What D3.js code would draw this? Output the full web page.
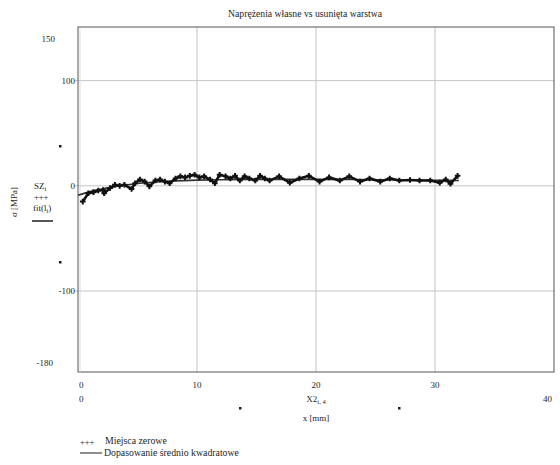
<!DOCTYPE html>
<html>
<head>
<meta charset="utf-8">
<script src="https://cdn.jsdelivr.net/npm/d3@7/dist/d3.min.js"></script>
<style>
  body { margin: 0; background: #fff; }
  svg text { font-family: "Liberation Serif", "DejaVu Serif", serif; }
</style>
</head>
<body>
<svg id="chart" width="560" height="465"></svg>
<script>
// Measured residual stress vs depth of removed layer
const depth = [0.4, 0.87, 1.3, 1.7, 2.1, 2.2, 2.7, 3.1, 3.5, 3.9, 4.5, 4.8, 5.2, 5.6, 6.0, 6.5, 6.9, 7.3, 7.7,
  8.2, 8.6, 9.0, 9.4, 9.8, 10.2, 10.6, 11.1, 11.5, 11.9, 12.4, 12.8, 13.2, 13.6, 14.0, 14.4, 14.9, 15.3, 15.7,
  16.1, 16.9, 17.8, 18.6, 19.4, 20.3, 21.1, 22.0, 22.8, 23.7, 24.5, 25.4, 26.2, 27.0, 27.9, 28.7, 29.6, 30.4,
  30.9, 31.3, 31.9];
const stress = [-15, -7, -6, -4.5, -4, -7, -2, 1, 0, 1, -3, 2.5, 6, 4, -0.5, 5, 6, 4, 2.5,
  7, 9, 8, 9.5, 10.5, 8, 9, 6, 2.5, 10.5, 9, 7, 9.5, 5, 9, 7, 5, 9.5, 7,
  5, 9, 3, 7, 9.5, 4, 8, 5, 9, 4, 7, 4, 7, 5, 5.5, 5, 5, 3,
  6, 2, 9.5];

// Least-squares fit curve
const fitDepth = [0, 1, 2, 3, 4, 5, 6, 8, 10, 12, 15, 20, 25, 30, 32];
const fitStress = [-9, -5.5, -3, -1, 0.8, 2.2, 3.2, 4.6, 5.4, 5.8, 6.1, 6.1, 5.8, 5.3, 5.1];

const xGrid = [10, 20, 30];
const yGrid = [100, 0, -100];
const xTickLabels = ["0", "10", "20", "30"];
const yTickLabels = ["100", "0", "-100"];
const xLimits = ["0", "40"];
const yLimits = ["150", "-180"];

const titleText = "Naprężenia własne vs usunięta warstwa";
const legendItems = ["Miejsca zerowe", "Dopasowanie średnio kwadratowe"];

const ink = "#1e1e1e";
const svg = d3.select("#chart");
const L = 78, R = 554, T = 27, B = 372;

const x = d3.scaleLinear().domain([0, 40]).range([L, R]);
const y = d3.scaleLinear().domain([-177, 151]).range([B, T]);

function label(px, py, txt, size, anchor) {
  return svg.append("text").attr("x", px).attr("y", py).attr("fill", ink)
    .attr("font-size", size).attr("text-anchor", anchor || "start").text(txt);
}

// grid
svg.append("g").selectAll("line").data(xGrid).join("line")
  .attr("x1", d => x(d)).attr("x2", d => x(d)).attr("y1", T).attr("y2", B)
  .attr("stroke", "#c4c4c4").attr("stroke-width", 1);
svg.append("g").selectAll("line").data(yGrid).join("line")
  .attr("x1", L - 4).attr("x2", R).attr("y1", d => y(d)).attr("y2", d => y(d))
  .attr("stroke", "#c4c4c4").attr("stroke-width", 1);

// frame
svg.append("rect").attr("x", L).attr("y", T).attr("width", R - L).attr("height", B - T)
  .attr("fill", "none").attr("stroke", "#555").attr("stroke-width", 1);
svg.append("line").attr("x1", L + 2).attr("x2", L + 2).attr("y1", T + 2).attr("y2", B)
  .attr("stroke", "#ddd").attr("stroke-width", 1);

// title
label(305, 17, titleText, 9.7, "middle");

// y tick labels
svg.append("g").selectAll("text").data(yGrid).join("text")
  .attr("x", 75).attr("y", d => y(d) + 3).attr("text-anchor", "end").attr("fill", ink)
  .attr("font-size", 9).text((d, i) => yTickLabels[i]);
label(55, 42, yLimits[0], 9, "end");
label(53, 366, yLimits[1], 9, "end");

// x tick labels
svg.append("g").selectAll("text").data([0, ...xGrid]).join("text")
  .attr("x", d => d === 0 ? x(d) + 1 : x(d)).attr("y", 388)
  .attr("text-anchor", d => d === 0 ? "start" : "middle").attr("fill", ink)
  .attr("font-size", 9).text((d, i) => xTickLabels[i]);
label(x(0) + 1, 402, xLimits[0], 9);
label(R - 2, 402, xLimits[1], 9, "end");

// x axis expression and label
const xe = label(316, 402, null, 9, "middle");
xe.append("tspan").text("X2");
xe.append("tspan").attr("font-size", 6.5).attr("dy", 2).text("i, 4");
label(316, 421, "x [mm]", 9, "middle");

// placeholder markers
[[240, 408], [399, 408], [60, 146], [60, 262]].forEach(([px, py]) => {
  svg.append("rect").attr("x", px - 1).attr("y", py - 1).attr("width", 2.5).attr("height", 2.5).attr("fill", ink);
});

// y axis label and trace expressions
svg.append("text").attr("transform", "translate(17,202) rotate(-90)").attr("text-anchor", "middle")
  .attr("fill", ink).attr("font-size", 9).text("σ [MPa]");
const e1 = label(34, 189, null, 9);
e1.append("tspan").text("SZ");
e1.append("tspan").attr("font-size", 6.5).attr("dy", 2).text("i");
label(34, 200, "+++", 8.5);
const e2 = label(33, 211, null, 9);
e2.append("tspan").text("fit(l");
e2.append("tspan").attr("font-size", 6.5).attr("dy", 2).text("i");
e2.append("tspan").attr("dy", -2).text(")");
svg.append("line").attr("x1", 32).attr("x2", 53).attr("y1", 221).attr("y2", 221)
  .attr("stroke", ink).attr("stroke-width", 1.5);

// fit curve
const line = d3.line().curve(d3.curveMonotoneX).x(d => x(d[0])).y(d => y(d[1]));
svg.append("path").datum(fitDepth.map((d, i) => [d, fitStress[i]]))
  .attr("d", line).attr("fill", "none").attr("stroke", "#333").attr("stroke-width", 1.6);

// measured points
const pts = depth.map((d, i) => [d, stress[i]]);
svg.append("path").datum(pts).attr("d", d3.line().x(d => x(d[0])).y(d => y(d[1])))
  .attr("fill", "none").attr("stroke", "#111").attr("stroke-width", 2.6);
svg.append("g").selectAll("path").data(pts).join("path")
  .attr("d", d => `M${x(d[0]) - 2.8},${y(d[1])}h5.6M${x(d[0])},${y(d[1]) - 2.8}v5.6`)
  .attr("stroke", "#111").attr("stroke-width", 2);

// legend
label(80, 445, "+++", 8.5);
label(105, 444, legendItems[0], 9.8);
svg.append("line").attr("x1", 80).attr("x2", 102).attr("y1", 453).attr("y2", 453)
  .attr("stroke", ink).attr("stroke-width", 1);
label(104, 456, legendItems[1], 9.8);
</script>
</body>
</html>
